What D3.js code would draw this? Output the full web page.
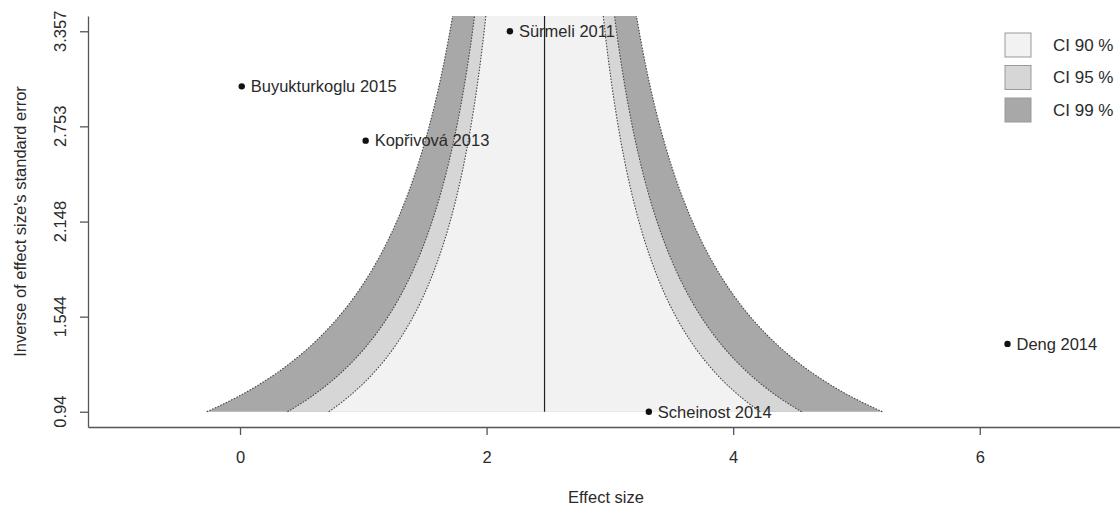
<!DOCTYPE html>
<html>
<head>
<meta charset="utf-8">
<script src="https://cdn.jsdelivr.net/npm/d3@7"></script>
<style>
  body { margin: 0; background: #fff; }
  svg text { font-family: "Liberation Sans", Arial, sans-serif; fill: #2a2a2a; }
</style>
</head>
<body>
<div id="chart"></div>
<script>
// studies in the funnel plot
var studies = ["Sürmeli 2011", "Buyukturkoglu 2015", "Kopřivová 2013", "Deng 2014", "Scheinost 2014"];
var effects = [2.189, 0.014, 1.019, 6.225, 3.316];
var precision = [3.357, 3.007, 2.662, 1.371, 0.94];

// pooled effect and confidence levels
var pooled = 2.47;
var ciLabels = ["CI 90 %", "CI 95 %", "CI 99 %"];
var ciZ = [1.645, 1.96, 2.576];
var ciFill = ["#f2f2f2", "#d6d6d6", "#a8a8a8"];

var xTicks = [0, 2, 4, 6];
var yTicks = [0.94, 1.544, 2.148, 2.753, 3.357];
var yTickLabels = ["0.94", "1.544", "2.148", "2.753", "3.357"];

var svgWidth = 1120, svgHeight = 507;
var margin = { top: 16, right: -4, bottom: 80, left: 88 };
var width = svgWidth - margin.left - margin.right;
var height = svgHeight - margin.top - margin.bottom;
var fs = "16.5px";

var svg = d3.select("#chart").append("svg")
    .attr("width", svgWidth)
    .attr("height", svgHeight);

var chartGroup = svg.append("g")
    .attr("transform", `translate(${margin.left}, ${margin.top})`);

var xScale = d3.scaleLinear().domain([-1.233, 7.17]).range([0, width]);
var yScale = d3.scaleLinear().domain([0.843, 3.454]).range([height, 0]);

// clip to plot region
svg.append("defs").append("clipPath").attr("id", "clip")
    .append("rect").attr("width", width).attr("height", height);

var funnel = chartGroup.append("g").attr("clip-path", "url(#clip)");
var ySteps = d3.range(0, 201).map(i => 0.94 + i * (3.454 - 0.94) / 200);

// filled bands, widest first
[2, 1, 0].forEach(function (k) {
    var z = ciZ[k];
    var area = d3.area()
        .y(d => yScale(d))
        .x0(d => xScale(pooled - z / d))
        .x1(d => xScale(pooled + z / d));
    funnel.append("path")
        .datum(ySteps)
        .attr("d", area)
        .attr("fill", ciFill[k]);
});

// points and labels
var pts = chartGroup.append("g");
studies.forEach(function (s, i) {
    pts.append("circle")
        .attr("cx", xScale(effects[i]))
        .attr("cy", yScale(precision[i]))
        .attr("r", 3.2)
        .attr("fill", "#111");
    pts.append("text")
        .attr("x", xScale(effects[i]) + 9)
        .attr("y", yScale(precision[i]))
        .attr("dy", "0.35em")
        .attr("font-size", fs)
        .text(s);
});

// dotted boundaries
ciZ.forEach(function (z) {
    [-1, 1].forEach(function (sgn) {
        var line = d3.line()
            .y(d => yScale(d))
            .x(d => xScale(pooled + sgn * z / d));
        funnel.append("path")
            .datum(ySteps)
            .attr("d", line)
            .attr("fill", "none")
            .attr("stroke", "#444")
            .attr("stroke-width", 1.1)
            .attr("stroke-dasharray", "1.5,1.5");
    });
});

// pooled effect line
funnel.append("line")
    .attr("x1", xScale(pooled)).attr("x2", xScale(pooled))
    .attr("y1", yScale(0.94)).attr("y2", 0)
    .attr("stroke", "#222")
    .attr("stroke-width", 1.2);

// axes
var bottomAxis = d3.axisBottom(xScale).tickValues(xTicks).tickSize(8).tickSizeOuter(0).tickPadding(16);
var xAxisG = chartGroup.append("g")
    .attr("transform", `translate(0, ${height})`)
    .call(bottomAxis);
xAxisG.selectAll("text").attr("font-size", fs).attr("fill", "#2a2a2a");
xAxisG.selectAll("path, line").attr("stroke", "#555").attr("stroke-width", 1.3);

var leftAxis = d3.axisLeft(yScale).tickValues(yTicks).tickSize(8).tickSizeOuter(0).tickFormat("");
var yAxisG = chartGroup.append("g").call(leftAxis);
yAxisG.selectAll("path, line").attr("stroke", "#555").attr("stroke-width", 1.3);

yTicks.forEach(function (t, i) {
    chartGroup.append("text")
        .attr("transform", `translate(${66 - margin.left}, ${yScale(t)}) rotate(-90)`)
        .attr("text-anchor", "middle")
        .attr("font-size", fs)
        .text(yTickLabels[i]);
});

// axis titles
chartGroup.append("text")
    .attr("x", width / 2)
    .attr("y", height + 76)
    .attr("text-anchor", "middle")
    .attr("font-size", fs)
    .text("Effect size");

chartGroup.append("text")
    .attr("transform", `translate(${26 - margin.left}, ${height / 2}) rotate(-90)`)
    .attr("text-anchor", "middle")
    .attr("font-size", fs)
    .text("Inverse of effect size's standard error");

// legend
var legend = svg.append("g").attr("transform", "translate(1005, 33)");
ciLabels.forEach(function (lab, i) {
    legend.append("rect")
        .attr("x", 0).attr("y", i * 32.5)
        .attr("width", 26).attr("height", 24)
        .attr("fill", ciFill[i])
        .attr("stroke", "#999");
    legend.append("text")
        .attr("x", 48).attr("y", i * 32.5 + 12)
        .attr("dy", "0.35em")
        .attr("font-size", "17px")
        .text(lab);
});
</script>
</body>
</html>
